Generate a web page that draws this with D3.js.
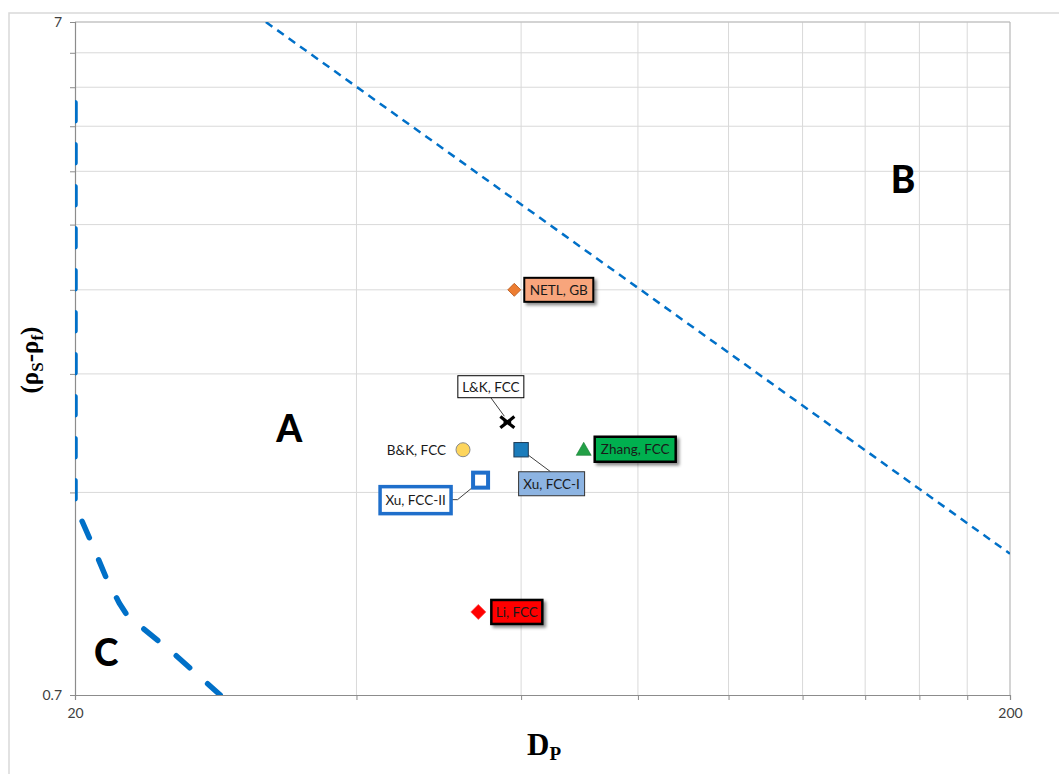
<!DOCTYPE html>
<html>
<head>
<meta charset="utf-8">
<script src="https://cdn.jsdelivr.net/npm/d3@7"></script>
<style>
  body { margin: 0; background: #fff; }
</style>
</head>
<body>
<svg id="chart" width="1059" height="774"></svg>
<script>
// Studies: particle diameter Dp and density difference (rho_s - rho_f)
const studies = ["NETL, GB", "L&K, FCC", "B&K, FCC", "Xu, FCC-I", "Zhang, FCC", "Xu, FCC-II", "Li, FCC"];
const dpValues = [59, 58, 52, 60, 70, 54.3, 54];
const rhoValues = [2.8, 1.78, 1.62, 1.62, 1.62, 1.46, 0.93];

// Boundary between regions A and B
const boundaryBDp = [32, 200];
const boundaryBRho = [7, 1.135];

// Boundary enclosing region C
const boundaryCDp = [20, 20, 20.75, 21.6, 22.3, 22.7, 23.7, 25.6, 28.6];
const boundaryCRho = [5.31, 1.341, 1.193, 1.045, 0.959, 0.923, 0.877, 0.803, 0.7];

// Region names and where they sit
const regionNames = ["A", "B", "C"];
const regionDp = [33.9, 153.7, 21.6];
const regionRho = [1.74, 4.08, 0.81];

// Axis labels and gridlines
const xTickValues = [20, 200];
const yTickValues = [0.7, 7];
const xGridValues = [40, 60, 80, 100, 120, 140, 160, 180];
const yGridValues = [1.4, 2.1, 2.8, 3.5, 4.2, 4.9, 5.6, 6.3];

// Marker appearance per study
const markerStyles = [
  { shape: "diamond", r: 6.5, fill: "#ED7D31", stroke: "#B4561A", sw: 0.8 },
  { shape: "star", r: 7, fill: "none", stroke: "#000", sw: 3.2 },
  { shape: "circle", r: 7, fill: "#FDD55C", stroke: "#8a8a8a", sw: 1 },
  { shape: "square", r: 7.2, fill: "#1B7CBB", stroke: "#1d3a55", sw: 1 },
  { shape: "triangle", r: 7.5, fill: "#22A046", stroke: "#1a7d36", sw: 0.6 },
  { shape: "square", r: 7.5, fill: "#fff", stroke: "#1F6FCB", sw: 4 },
  { shape: "diamond", r: 7.5, fill: "#FF0000", stroke: "#ff5050", sw: 0.8 }
];

// Callout appearance per study (offsets from the marker)
const calloutStyles = [
  { dx: 44.5, dy: 0, w: 69, h: 24, fill: "#F8A57C", stroke: "#000", sw: 2, shadow: true, leader: null },
  { dx: -16.5, dy: -35.5, w: 66, h: 22, fill: "#fff", stroke: "#000", sw: 1, shadow: false, leader: [[-16.5, -24.5], [-3, -6]] },
  { dx: -17, dy: 0, w: 0, h: 0, fill: "none", stroke: "none", sw: 0, shadow: false, leader: null, anchor: "end" },
  { dx: 30.5, dy: 34, w: 66, h: 24, fill: "#8DB4E2", stroke: "#333", sw: 1, shadow: false, leader: [[0, 0], [29.5, 22]] },
  { dx: 51.5, dy: -0.5, w: 81, h: 25, fill: "#00B050", stroke: "#000", sw: 2.5, shadow: true, leader: null },
  { dx: -65, dy: 20, w: 71, h: 27, fill: "#fff", stroke: "#1F6FCB", sw: 3.5, shadow: false, leader: [[-29, 19.5], [-23, 19.5], [-4, 4]] },
  { dx: 38.5, dy: 0, w: 51, h: 24, fill: "#FF0000", stroke: "#000", sw: 2.5, shadow: true, leader: null }
];

const sans = "Lato, 'Open Sans', sans-serif";
const serif = "'Liberation Serif', 'DejaVu Serif', serif";

const svg = d3.select("#chart");
const margin = { left: 75, right: 1010, top: 22, bottom: 695 };

const x = d3.scaleLog().domain([20, 200]).range([margin.left, margin.right]);
const y = d3.scaleLog().domain([0.7, 7]).range([margin.bottom, margin.top]);

const defs = svg.append("defs");
defs.append("clipPath").attr("id", "plotClip")
  .append("rect")
  .attr("x", margin.left).attr("y", margin.top)
  .attr("width", margin.right - margin.left).attr("height", margin.bottom - margin.top);
const shadow = defs.append("filter").attr("id", "shadow")
  .attr("x", "-20%").attr("y", "-30%").attr("width", "150%").attr("height", "180%");
shadow.append("feDropShadow").attr("dx", 2.5).attr("dy", 2.5)
  .attr("stdDeviation", 1.5).attr("flood-color", "#000").attr("flood-opacity", 0.45);

// Chart area frame
svg.append("rect")
  .attr("x", 9).attr("y", 13).attr("width", 1200).attr("height", 900)
  .attr("fill", "none").attr("stroke", "#d9d9d9").attr("stroke-width", 1.5);

// Gridlines
const grid = svg.append("g");
grid.selectAll(".vg").data(xGridValues).join("line")
  .attr("x1", d => x(d)).attr("x2", d => x(d))
  .attr("y1", margin.top).attr("y2", margin.bottom)
  .attr("stroke", "#d9d9d9").attr("stroke-width", 1);
grid.selectAll(".hg").data(yGridValues).join("line")
  .attr("y1", d => y(d)).attr("y2", d => y(d))
  .attr("x1", margin.left).attr("x2", margin.right)
  .attr("stroke", "#d9d9d9").attr("stroke-width", 1);
// Major gridlines at the upper ends of each axis
grid.append("line")
  .attr("x1", margin.left).attr("x2", margin.right)
  .attr("y1", y(7)).attr("y2", y(7))
  .attr("stroke", "#c4c4c4").attr("stroke-width", 1.5);
grid.append("line")
  .attr("x1", x(200)).attr("x2", x(200))
  .attr("y1", margin.top).attr("y2", margin.bottom)
  .attr("stroke", "#b8b8b8").attr("stroke-width", 1.2);

// Axes
const xAxis = d3.axisBottom(x)
  .tickValues([20].concat(xGridValues, [200]))
  .tickSize(5)
  .tickFormat(d => xTickValues.includes(d) ? d3.format("d")(d) : "");
const gx = svg.append("g").attr("transform", `translate(0,${margin.bottom})`).call(xAxis);
gx.select(".domain").attr("stroke", "#8c8c8c").attr("stroke-width", 1.2);
gx.selectAll(".tick line").attr("stroke", "#8c8c8c");
gx.selectAll(".tick text").attr("font-family", sans).attr("font-size", 14)
  .attr("fill", "#404040").attr("dy", "1.1em");

const yAxis = d3.axisLeft(y)
  .tickValues([0.7].concat(yGridValues, [7]))
  .tickSize(5)
  .tickFormat(d => yTickValues.includes(d) ? String(d) : "");
const gy = svg.append("g").attr("transform", `translate(${margin.left},0)`).call(yAxis);
gy.select(".domain").attr("stroke", "#8c8c8c").attr("stroke-width", 1.2);
gy.selectAll(".tick line").attr("stroke", "#8c8c8c");
gy.selectAll(".tick text").attr("font-family", sans).attr("font-size", 14)
  .attr("fill", "#404040").attr("x", -13);

// Boundary lines
const plot = svg.append("g").attr("clip-path", "url(#plotClip)");
const line = d3.line().x(d => x(d[0])).y(d => y(d[1]));
plot.append("path")
  .datum(d3.zip(boundaryBDp, boundaryBRho))
  .attr("d", line)
  .attr("fill", "none").attr("stroke", "#0070C8").attr("stroke-width", 2.5)
  .attr("stroke-dasharray", "8,6");
plot.append("path")
  .datum(d3.zip(boundaryCDp, boundaryCRho))
  .attr("d", line)
  .attr("fill", "none").attr("stroke", "#0070C8").attr("stroke-width", 5.5)
  .attr("stroke-linecap", "round").attr("stroke-linejoin", "round")
  .attr("stroke-dasharray", "18,24");

// Region names
svg.selectAll(".region").data(regionNames).join("text")
  .attr("x", (d, i) => x(regionDp[i]))
  .attr("y", (d, i) => y(regionRho[i]))
  .attr("dy", "0.36em")
  .attr("text-anchor", "middle")
  .attr("font-family", sans)
  .attr("font-weight", 900)
  .attr("font-size", 37)
  .attr("fill", "#000")
  .text(d => d);

// Study points
const points = studies.map((name, i) => ({
  name, px: x(dpValues[i]), py: y(rhoValues[i]), m: markerStyles[i], c: calloutStyles[i]
}));

// Leader lines
const leaders = svg.append("g");
points.filter(p => p.c.leader).forEach(p => {
  leaders.append("path")
    .attr("d", d3.line()(p.c.leader.map(q => [p.px + q[0], p.py + q[1]])))
    .attr("fill", "none").attr("stroke", "#404040").attr("stroke-width", 1);
});

// Callout boxes and text
const callouts = svg.append("g");
points.forEach(p => {
  const g = callouts.append("g").attr("transform", `translate(${p.px + p.c.dx},${p.py + p.c.dy})`);
  if (p.c.w > 0) {
    g.append("rect")
      .attr("x", -p.c.w / 2).attr("y", -p.c.h / 2)
      .attr("width", p.c.w).attr("height", p.c.h)
      .attr("fill", p.c.fill).attr("stroke", p.c.stroke).attr("stroke-width", p.c.sw)
      .attr("filter", p.c.shadow ? "url(#shadow)" : null);
  }
  g.append("text")
    .attr("text-anchor", p.c.anchor || "middle")
    .attr("dy", "0.36em")
    .attr("font-family", sans)
    .attr("font-size", 13.5)
    .attr("fill", "#1a1a1a")
    .text(p.name);
});

// Markers
const markers = svg.append("g");
points.forEach(p => {
  const m = p.m;
  const g = markers.append("g").attr("transform", `translate(${p.px},${p.py})`);
  if (m.shape === "circle") {
    g.append("circle").attr("r", m.r).attr("fill", m.fill).attr("stroke", m.stroke).attr("stroke-width", m.sw);
  } else if (m.shape === "square") {
    const s = m.r * 2;
    g.append("rect").attr("x", -m.r).attr("y", -m.r).attr("width", s).attr("height", s)
      .attr("fill", m.fill).attr("stroke", m.stroke).attr("stroke-width", m.sw);
  } else if (m.shape === "diamond") {
    g.append("path").attr("d", `M0,${-m.r}L${m.r},0L0,${m.r}L${-m.r},0Z`)
      .attr("fill", m.fill).attr("stroke", m.stroke).attr("stroke-width", m.sw);
  } else if (m.shape === "triangle") {
    g.append("path").attr("d", `M0,${-m.r}L${m.r},${m.r * 0.75}L${-m.r},${m.r * 0.75}Z`)
      .attr("fill", m.fill).attr("stroke", m.stroke).attr("stroke-width", m.sw);
  } else if (m.shape === "star") {
    g.append("path")
      .attr("d", `M${-m.r},${-m.r * 0.8}L${m.r},${m.r * 0.8}M${-m.r},${m.r * 0.8}L${m.r},${-m.r * 0.8}M${-m.r * 0.55},0L${m.r * 0.55},0`)
      .attr("fill", "none").attr("stroke", m.stroke).attr("stroke-width", m.sw);
  }
});

// Axis titles
const yTitle = svg.append("text")
  .attr("transform", "translate(38,360) rotate(-90)")
  .attr("text-anchor", "middle")
  .attr("font-family", serif)
  .attr("font-weight", "bold")
  .attr("font-size", 25)
  .attr("fill", "#000");
yTitle.append("tspan").text("(ρ");
yTitle.append("tspan").attr("font-size", 17).attr("dy", 5).text("S");
yTitle.append("tspan").attr("dy", -5).text("-ρ");
yTitle.append("tspan").attr("font-size", 17).attr("dy", 5).text("f");
yTitle.append("tspan").attr("dy", -5).text(")");

const xTitle = svg.append("text")
  .attr("x", 527).attr("y", 755)
  .attr("font-family", serif)
  .attr("font-weight", "bold")
  .attr("font-size", 31)
  .attr("fill", "#000");
xTitle.append("tspan").text("D");
xTitle.append("tspan").attr("font-size", 19).attr("dy", 5).text("P");
</script>
</body>
</html>
